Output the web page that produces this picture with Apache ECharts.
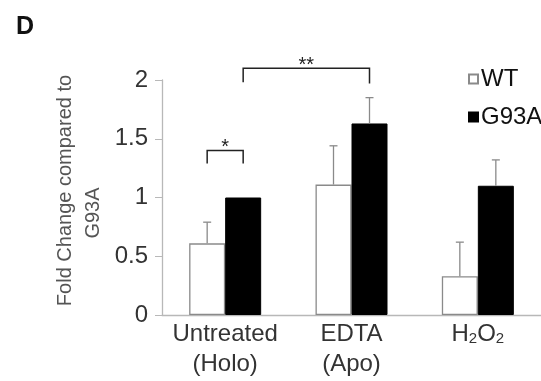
<!DOCTYPE html>
<html>
<head>
<meta charset="utf-8">
<script src="https://cdn.jsdelivr.net/npm/echarts@6/dist/echarts.min.js"></script>
<style>
	html, body { margin: 0; padding: 0; background: #fff; }
	#chart { width: 541px; height: 381px; }
</style>
</head>
<body>
<div id="chart"></div>
<script>
var categories = [ 'Untreated\n(Holo)', 'EDTA\n(Apo)', 'H2O2' ];
var yTicks = [ 0, 0.5, 1, 1.5, 2 ];
var wtMean = [ 0.61, 1.11, 0.33 ];
var wtErr = [ 0.18, 0.33, 0.29 ];
var g93aMean = [ 1.0, 1.63, 1.10 ];
var g93aErr = [ 0, 0.22, 0.22 ];
// bracket: [fromCat, fromSide, toCat, toSide, lineY, leftTickY, rightTickY, label]
var brackets = [
	[ 0, -1, 0, 1, 1.40, 1.29, 1.29, '*' ],
	[ 0, 1, 1, 1, 2.10, 1.98, 1.97, '**' ]
];

var BAR_W = 36;
var FONT = '"Liberation Sans", Arial, sans-serif';

function errData(mean, err) {
	var out = [];
	for ( var i = 0; i < mean.length; i++) {
		if (err[i] > 0) {
			out.push([ i, mean[i], mean[i] + err[i] ]);
		}
	}
	return out;
}

function errRender(side) {
	return function(params, api) {
		var c = api.coord([ api.value(0), api.value(1) ]);
		var t = api.coord([ api.value(0), api.value(2) ]);
		var x = c[0] + side * BAR_W / 2;
		var st = { stroke : '#8a8a8a', lineWidth : 1.3 };
		return {
			type : 'group',
			children : [ {
				type : 'line',
				shape : { x1 : x, y1 : c[1], x2 : x, y2 : t[1] },
				style : st
			}, {
				type : 'line',
				shape : { x1 : x - 4, y1 : t[1], x2 : x + 4, y2 : t[1] },
				style : st
			} ]
		};
	};
}

var chart = echarts.init(document.getElementById('chart'));
var option = {
	backgroundColor : '#fff',
	animation : false,
	textStyle : { fontFamily : FONT },
	title : {
		text : 'D',
		left : 11,
		top : 10,
		textStyle : { fontSize : 25, fontWeight : 'bold', color : '#111', fontFamily : FONT }
	},
	legend : {
		data : [ 'WT', 'G93A' ],
		orient : 'vertical',
		left : 463,
		top : 62,
		icon : 'rect',
		itemWidth : 9,
		itemHeight : 9,
		itemGap : 14,
		textStyle : { fontSize : 24, color : '#111', fontFamily : FONT, padding : [ 0, 0, 0, -2 ] }
	},
	grid : {
		left : 162,
		right : -2,
		top : 80,
		bottom : 66,
		containLabel : false
	},
	xAxis : {
		type : 'category',
		data : categories,
		axisLine : { lineStyle : { color : '#b8b8b8', width : 1.3 } },
		axisTick : { show : false },
		axisLabel : {
			interval : 0,
			hideOverlap : false,
			fontSize : 24,
			lineHeight : 30,
			color : '#333',
			margin : 4,
			fontFamily : FONT,
			formatter : function(v) {
				if (v === 'H2O2') {
					return 'H{s|2}O{s|2}';
				}
				return v;
			},
			rich : {
				s : { fontSize : 15, padding : [ 10, 0, 0, 0 ], color : '#333', fontFamily : FONT }
			}
		}
	},
	yAxis : {
		type : 'value',
		min : yTicks[0],
		max : yTicks[yTicks.length - 1],
		interval : 0.5,
		name : '{a|Fold Change compared to}\n{b|G93A}',
		nameLocation : 'middle',
		nameGap : 52,
		nameTextStyle : {
			color : '#555',
			fontFamily : FONT,
			rich : {
				a : { fontSize : 20, lineHeight : 28, color : '#555', fontFamily : FONT, padding : [ 0, 0, 0, 14 ] },
				b : { fontSize : 20, lineHeight : 28, color : '#555', fontFamily : FONT, padding : [ 0, 31, 0, 0 ] }
			}
		},
		axisLine : { show : true, lineStyle : { color : '#b8b8b8', width : 1.3 } },
		axisTick : { show : true, length : 7, lineStyle : { color : '#b8b8b8' } },
		splitLine : { show : false },
		axisLabel : { fontSize : 24, color : '#333', margin : 14, fontFamily : FONT }
	},
	series : [ {
		name : 'WT',
		type : 'bar',
		data : wtMean,
		barWidth : BAR_W,
		barGap : '0%',
		itemStyle : { color : '#fff', borderColor : '#8a8a8a', borderWidth : 1.3 }
	}, {
		name : 'G93A',
		type : 'bar',
		data : g93aMean,
		barWidth : BAR_W,
		barGap : '0%',
		itemStyle : { color : '#000', borderColor : '#000', borderWidth : 1 }
	}, {
		name : 'wtErr',
		type : 'custom',
		data : errData(wtMean, wtErr),
		renderItem : errRender(-1),
		z : 5
	}, {
		name : 'g93aErr',
		type : 'custom',
		data : errData(g93aMean, g93aErr),
		renderItem : errRender(1),
		z : 5
	}, {
		name : 'sig',
		type : 'custom',
		data : brackets,
		renderItem : function(params, api) {
			var b = brackets[params.dataIndex];
			var a0 = api.coord([ b[0], b[4] ]);
			var a1 = api.coord([ b[2], b[4] ]);
			var x0 = a0[0] + b[1] * BAR_W / 2;
			var x1 = a1[0] + b[3] * BAR_W / 2;
			var y = a0[1];
			var yl = api.coord([ b[0], b[5] ])[1];
			var yr = api.coord([ b[2], b[6] ])[1];
			return {
				type : 'group',
				children : [ {
					type : 'polyline',
					shape : { points : [ [ x0, yl ], [ x0, y ], [ x1, y ], [ x1, yr ] ] },
					style : { stroke : '#222', lineWidth : 1.5, fill : null }
				}, {
					type : 'text',
					x : (x0 + x1) / 2,
					y : y - 3,
					style : {
						text : b[7],
						fontSize : 20,
						fontFamily : FONT,
						fill : '#222',
						align : 'center',
						verticalAlign : 'middle'
					}
				} ]
			};
		},
		z : 6
	} ]
};
chart.setOption(option);
window.onresize = chart.resize;
</script>
</body>
</html>
